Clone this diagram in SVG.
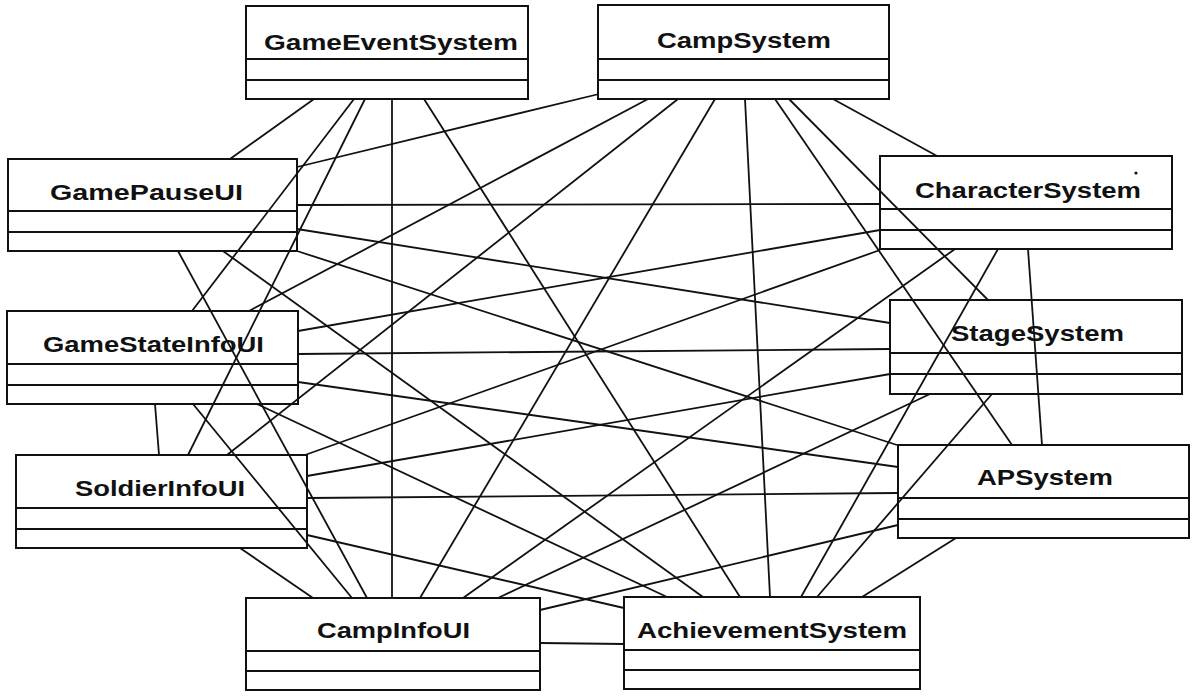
<svg xmlns="http://www.w3.org/2000/svg" width="1198" height="698" viewBox="0 0 1198 698">
<style>
.box{fill:#fff;stroke:#111;stroke-width:2}
.div{stroke:#111;stroke-width:2}
.lbl{font-family:"Liberation Sans",Arial,sans-serif;font-weight:bold;font-size:22px;text-anchor:middle;fill:#111}
#connectors line{stroke:#111;stroke-width:1.8;fill:none}
</style>
<rect width="1198" height="698" fill="#fff"/>
<g id="GameEventSystem">
<rect class="box" x="246" y="6" width="282" height="93"/>
<line class="div" x1="246" y1="59" x2="528" y2="59"/><line class="div" x1="246" y1="80" x2="528" y2="80"/>
<text class="lbl" x="391" y="50" textLength="254" lengthAdjust="spacingAndGlyphs">GameEventSystem</text>
</g>
<g id="CampSystem">
<rect class="box" x="598" y="5" width="291" height="94"/>
<line class="div" x1="598" y1="59" x2="889" y2="59"/><line class="div" x1="598" y1="80" x2="889" y2="80"/>
<text class="lbl" x="744" y="48" textLength="174" lengthAdjust="spacingAndGlyphs">CampSystem</text>
</g>
<g id="GamePauseUI">
<rect class="box" x="8" y="159" width="289" height="92"/>
<line class="div" x1="8" y1="211" x2="297" y2="211"/><line class="div" x1="8" y1="232" x2="297" y2="232"/>
<text class="lbl" x="146.5" y="200" textLength="193" lengthAdjust="spacingAndGlyphs">GamePauseUI</text>
</g>
<g id="CharacterSystem">
<rect class="box" x="880" y="156" width="292" height="93"/>
<line class="div" x1="880" y1="209" x2="1172" y2="209"/><line class="div" x1="880" y1="230" x2="1172" y2="230"/>
<text class="lbl" x="1028" y="198" textLength="226" lengthAdjust="spacingAndGlyphs">CharacterSystem</text>
<circle cx="1136" cy="173" r="1.6" fill="#111"/>
</g>
<g id="GameStateInfoUI">
<rect class="box" x="7" y="311" width="291" height="93"/>
<line class="div" x1="7" y1="364" x2="298" y2="364"/><line class="div" x1="7" y1="385" x2="298" y2="385"/>
<text class="lbl" x="153.5" y="352" textLength="221" lengthAdjust="spacingAndGlyphs">GameStateInfoUI</text>
</g>
<g id="StageSystem">
<rect class="box" x="890" y="300" width="292" height="94"/>
<line class="div" x1="890" y1="353" x2="1182" y2="353"/><line class="div" x1="890" y1="374" x2="1182" y2="374"/>
<text class="lbl" x="1037.5" y="341" textLength="173" lengthAdjust="spacingAndGlyphs">StageSystem</text>
</g>
<g id="SoldierInfoUI">
<rect class="box" x="16" y="455" width="291" height="93"/>
<line class="div" x1="16" y1="508" x2="307" y2="508"/><line class="div" x1="16" y1="529" x2="307" y2="529"/>
<text class="lbl" x="160" y="496" textLength="170" lengthAdjust="spacingAndGlyphs">SoldierInfoUI</text>
</g>
<g id="APSystem">
<rect class="box" x="898" y="445" width="291" height="93"/>
<line class="div" x1="898" y1="498" x2="1189" y2="498"/><line class="div" x1="898" y1="519" x2="1189" y2="519"/>
<text class="lbl" x="1045" y="485" textLength="136" lengthAdjust="spacingAndGlyphs">APSystem</text>
</g>
<g id="CampInfoUI">
<rect class="box" x="246" y="598" width="294" height="92"/>
<line class="div" x1="246" y1="651" x2="540" y2="651"/><line class="div" x1="246" y1="671" x2="540" y2="671"/>
<text class="lbl" x="393.5" y="638" textLength="153" lengthAdjust="spacingAndGlyphs">CampInfoUI</text>
</g>
<g id="AchievementSystem">
<rect class="box" x="624" y="597" width="296" height="92"/>
<line class="div" x1="624" y1="650" x2="920" y2="650"/><line class="div" x1="624" y1="670" x2="920" y2="670"/>
<text class="lbl" x="772" y="638" textLength="270" lengthAdjust="spacingAndGlyphs">AchievementSystem</text>
</g>
<g id="connectors">
<line x1="314" y1="99" x2="230" y2="159"/>
<line x1="354" y1="99" x2="192" y2="311"/>
<line x1="365" y1="99" x2="188" y2="455"/>
<line x1="392" y1="99" x2="392" y2="598"/>
<line x1="424" y1="99" x2="740" y2="597"/>
<line x1="599" y1="94" x2="297" y2="167"/>
<line x1="648" y1="99" x2="249" y2="311"/>
<line x1="678" y1="99" x2="227" y2="455"/>
<line x1="715" y1="99" x2="420" y2="598"/>
<line x1="745" y1="99" x2="770" y2="597"/>
<line x1="775" y1="99" x2="1012" y2="445"/>
<line x1="789" y1="99" x2="988" y2="300"/>
<line x1="833" y1="99" x2="937" y2="156"/>
<line x1="297" y1="205" x2="880" y2="204"/>
<line x1="297" y1="229" x2="890" y2="323"/>
<line x1="297" y1="251" x2="897" y2="445"/>
<line x1="298" y1="354" x2="890" y2="349"/>
<line x1="298" y1="382" x2="898" y2="467"/>
<line x1="298" y1="331" x2="880" y2="230"/>
<line x1="155" y1="404" x2="159" y2="455"/>
<line x1="193" y1="404" x2="352" y2="598"/>
<line x1="178" y1="251" x2="367" y2="598"/>
<line x1="257" y1="404" x2="667" y2="597"/>
<line x1="305" y1="455" x2="880" y2="250"/>
<line x1="955" y1="249" x2="463" y2="598"/>
<line x1="998" y1="249" x2="801" y2="597"/>
<line x1="1028" y1="249" x2="1042" y2="445"/>
<line x1="930" y1="394" x2="498" y2="598"/>
<line x1="992" y1="394" x2="817" y2="597"/>
<line x1="240" y1="548" x2="313" y2="598"/>
<line x1="307" y1="535" x2="624" y2="608"/>
<line x1="540" y1="610" x2="898" y2="525"/>
<line x1="223" y1="251" x2="703" y2="597"/>
<line x1="956" y1="538" x2="862" y2="597"/>
<line x1="540" y1="643" x2="624" y2="644"/>
<line x1="307" y1="498" x2="898" y2="493"/>
<line x1="307" y1="476" x2="890" y2="374"/>
</g>
</svg>
